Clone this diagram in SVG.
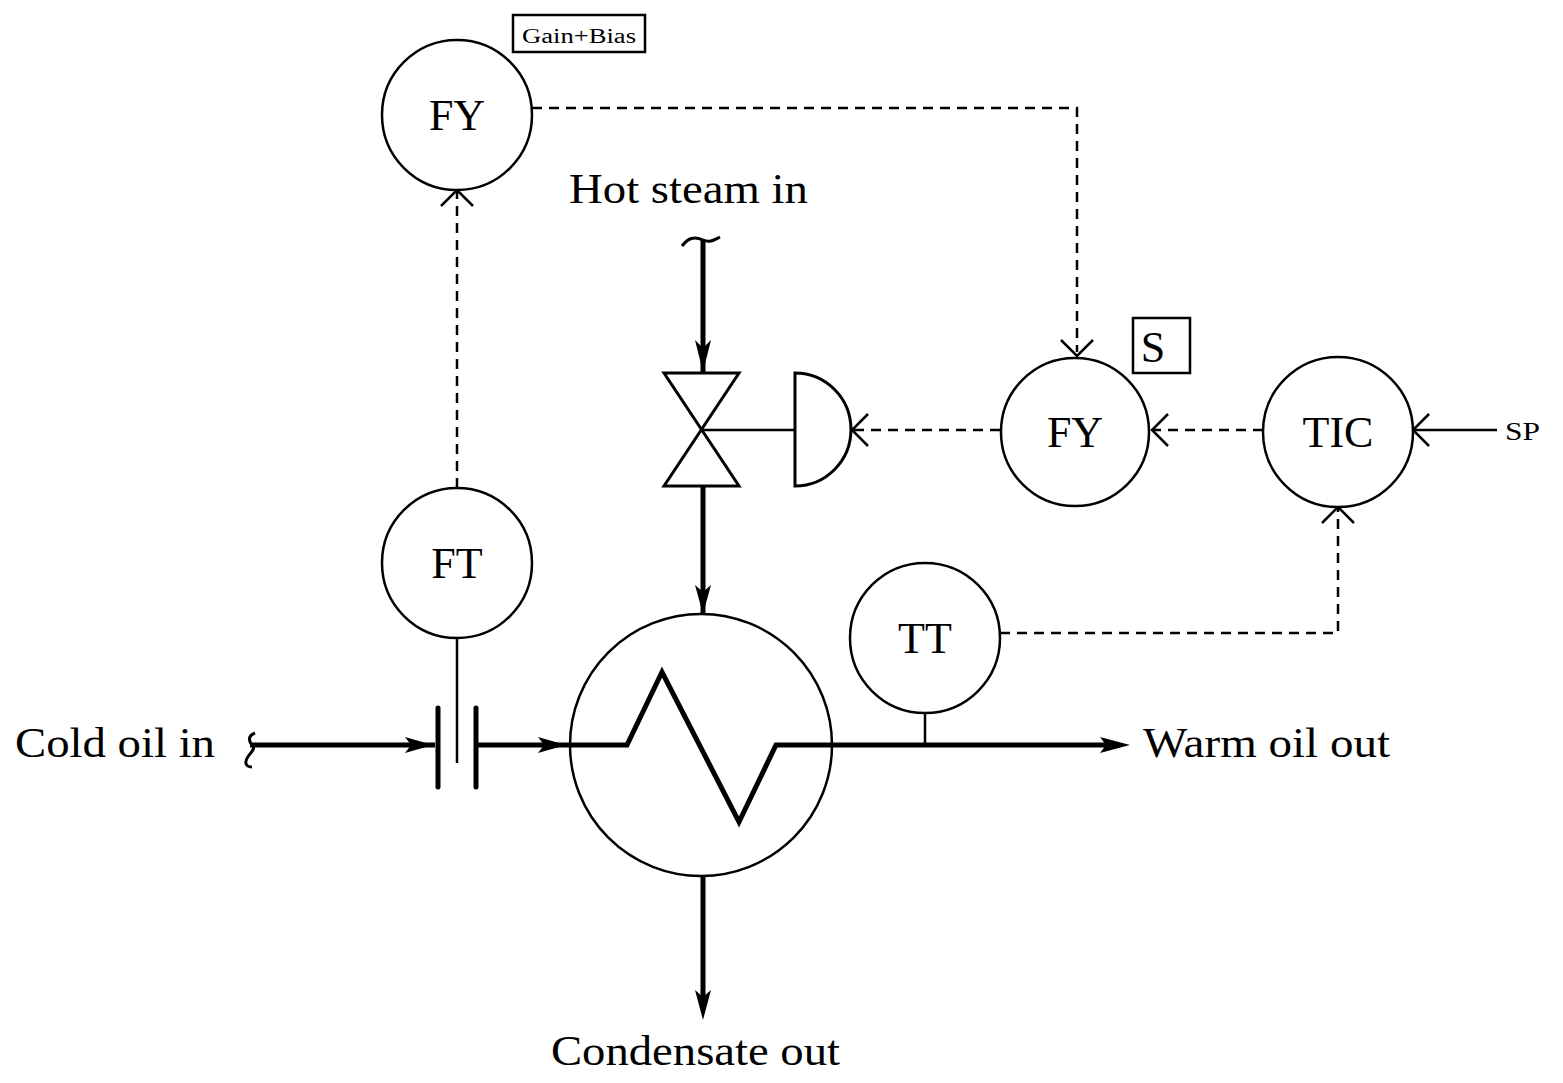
<svg xmlns="http://www.w3.org/2000/svg" width="1563" height="1083" viewBox="0 0 1563 1083">
<style>
text{font-family:"Liberation Serif","Times New Roman",serif;fill:#000}
.c{fill:#fff;stroke:#000;stroke-width:2.5}
.t{font-size:44px;text-anchor:middle}
.d{fill:none;stroke:#000;stroke-width:2.5;stroke-dasharray:10,7}
.s{fill:none;stroke:#000;stroke-width:2.5}
.p{fill:none;stroke:#000;stroke-width:5}
.oa{fill:none;stroke:#000;stroke-width:2.5}
</style>
<rect width="1563" height="1083" fill="#fff"/>
<g id="connectors">
<path class="p" d="M250,745 H435"/>
<path d="M405,737 L433,745 L405,753 L411,745Z"/>
<path class="p" d="M478,745 H568"/>
<path d="M538,737 L566,745 L538,753 L544,745Z"/>
<path class="p" d="M832,745 H1110"/>
<path d="M1100,737 L1130,745 L1100,753 L1106,745Z"/>
<path class="p" d="M703,240 V373"/>
<path d="M695,340 L703,372 L711,340 L703,348Z"/>
<path class="p" d="M703,486 V613"/>
<path d="M695,585 L703,614 L711,585 L703,592Z"/>
<path class="p" d="M703,876 V1000"/>
<path d="M695,990 L703,1020 L711,990 L703,997Z"/>
<path d="M682,246 C688,238 694,236 703,240 C710,243 714,240 720,237" class="s" style="stroke-width:3"/>
<path d="M255,733 C247,736 249,742 253,746 C256,750 247,755 246,761 C245,766 249,767 252,767" class="s" style="stroke-width:3"/>
<path class="s" d="M457,638 V763 M925,713 V745 M701,430 H795"/>
<path class="d" d="M457,488 V192"/>
<path class="oa" d="M441,206 L457,190 L473,206"/>
<path class="d" d="M532,108 H1077 V352"/>
<path class="oa" d="M1061,340 L1077,356 L1093,340"/>
<path class="d" d="M1000,430 H854"/>
<path class="oa" d="M868,414 L852,430 L868,446"/>
<path class="d" d="M1263,430 H1154"/>
<path class="oa" d="M1168,414 L1152,430 L1168,446"/>
<path class="s" d="M1497,430 H1415"/>
<path class="oa" d="M1429,414 L1413,430 L1429,446"/>
<path class="d" d="M1000,633 H1338 V509"/>
<path class="oa" d="M1322,523 L1338,507 L1354,523"/>
</g>
<g id="orifice"><path class="p" d="M438,708 V787 M476,708 V787" style="stroke-linecap:round"/></g>
<g id="valve">
<path class="s" style="stroke-width:3" d="M664,373 H739 L664,486 H739 Z"/>
<path class="s" style="stroke-width:3" d="M795,373 A56,56.5 0 0 1 795,486 Z"/>
</g>
<g id="hx">
<circle class="c" cx="701" cy="745" r="131"/>
<path class="s" style="stroke-width:5" d="M568,745 H627 L662,672 L739,822 L776,745 H832"/>
</g>
<g id="FY1"><circle class="c" cx="457" cy="115" r="75"/><text class="t" x="457" y="130">FY</text>
<rect x="513" y="15" width="132" height="37" class="s"/><text x="579" y="43" font-size="20" text-anchor="middle" textLength="114" lengthAdjust="spacingAndGlyphs">Gain+Bias</text></g>
<g id="FY2"><circle class="c" cx="1075" cy="432" r="74"/><text class="t" x="1075" y="447">FY</text>
<rect x="1133" y="318" width="57" height="55" class="s"/><text x="1153" y="362" font-size="44" text-anchor="middle">S</text></g>
<g id="TIC"><circle class="c" cx="1338" cy="432" r="75"/><text class="t" x="1338" y="447">TIC</text></g>
<g id="FT"><circle class="c" cx="457" cy="563" r="75"/><text class="t" x="457" y="578">FT</text></g>
<g id="TT"><circle class="c" cx="925" cy="638" r="75"/><text class="t" x="925" y="653">TT</text></g>
<g id="labels">
<text x="15" y="757" font-size="42" textLength="200" lengthAdjust="spacingAndGlyphs">Cold oil in</text>
<text x="1143" y="757" font-size="42" textLength="247" lengthAdjust="spacingAndGlyphs">Warm oil out</text>
<text x="569" y="203" font-size="42" textLength="239" lengthAdjust="spacingAndGlyphs">Hot steam in</text>
<text x="551" y="1065" font-size="42" textLength="289" lengthAdjust="spacingAndGlyphs">Condensate out</text>
<text x="1505" y="440" font-size="26" textLength="35" lengthAdjust="spacingAndGlyphs">SP</text>
</g>
</svg>
